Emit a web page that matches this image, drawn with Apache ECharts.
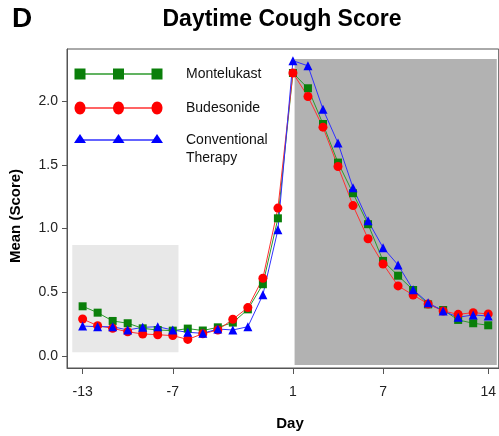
<!DOCTYPE html>
<html>
<head>
<meta charset="utf-8">
<script src="https://cdn.jsdelivr.net/npm/echarts@6/dist/echarts.min.js"></script>
<style>
  html, body { margin: 0; padding: 0; background: #fff; }
  #chart { width: 499px; height: 436px; }
</style>
</head>
<body>
<div id="chart"></div>
<script>
// 数据：第 -13 天到第 14 天
const days = [-13, -12, -11, -10, -9, -8, -7, -6, -5, -4, -3, -2, -1, 0,
              1, 2, 3, 4, 5, 6, 7, 8, 9, 10, 11, 12, 13, 14];
const montelukast = [0.39, 0.34, 0.275, 0.257, 0.217, 0.204, 0.199, 0.215, 0.20, 0.225, 0.262, 0.366, 0.563, 1.08,
                     2.22, 2.10, 1.82, 1.517, 1.277, 1.034, 0.746, 0.63, 0.518, 0.405, 0.361, 0.283, 0.257, 0.241];
const budesonide = [0.29, 0.238, 0.217, 0.19, 0.173, 0.167, 0.16, 0.13, 0.175, 0.204, 0.288, 0.38, 0.61, 1.16,
                    2.22, 2.035, 1.795, 1.486, 1.18, 0.92, 0.722, 0.55, 0.479, 0.408, 0.353, 0.327, 0.34, 0.33];
const conventional = [0.235, 0.23, 0.23, 0.204, 0.225, 0.23, 0.204, 0.186, 0.178, 0.212, 0.204, 0.23, 0.48, 0.99,
                      2.316, 2.276, 1.936, 1.67, 1.32, 1.06, 0.85, 0.714, 0.52, 0.418, 0.353, 0.304, 0.322, 0.314];
const xTicks = [-13, -7, 1, 7, 14];
const yTicks = [0, 0.5, 1, 1.5, 2];
// 阴影区间（基线期 / 治疗期）
const baselineBox = [[-13.69, 0.03], [-6.62, 0.87]];
const treatBox = [[1.11, -0.071], [14.57, 2.329]];

const font = 'Liberation Sans, Arial, sans-serif';

function pairs(vals) {
	return days.map(function (d, i) { return [d, vals[i]]; });
}

const chart = echarts.init(document.getElementById('chart'), null, { renderer: 'canvas' });

function lineSeries(name, vals, symbol, size, mColor, lColor) {
	return {
		name: name,
		type: 'line',
		data: pairs(vals),
		symbol: symbol,
		symbolSize: size,
		z: 3,
		itemStyle: { color: mColor },
		lineStyle: { color: lColor, width: 1 },
		animation: false
	};
}

// 图例（线 + 三个标记）
function legendRow(y, symbol, mColor, lColor, label) {
	const xs = [80, 118.5, 157];
	const els = [{
		type: 'line',
		shape: { x1: 80, y1: y, x2: 157, y2: y },
		style: { stroke: lColor, lineWidth: 1.5 }
	}];
	xs.forEach(function (x) {
		if (symbol === 'rect') {
			els.push({ type: 'rect', shape: { x: x - 5.5, y: y - 5.5, width: 11, height: 11 }, style: { fill: mColor } });
		} else if (symbol === 'circle') {
			els.push({ type: 'ellipse', shape: { cx: x, cy: y, rx: 5.5, ry: 6.5 }, style: { fill: mColor } });
		} else {
			els.push({ type: 'polygon', shape: { points: [[x, y - 6], [x - 6, y + 3], [x + 6, y + 3]] }, style: { fill: mColor } });
		}
	});
	els.push({
		type: 'text', left: 186, top: y - 9,
		style: { text: label, font: '14px ' + font, fill: '#111', lineHeight: 18 }
	});
	return els;
}

const graphics = [].concat(
	legendRow(74, 'rect', '#0a7f0a', '#2c9a2c', 'Montelukast'),
	legendRow(108, 'circle', '#ff0000', '#ff3030', 'Budesonide'),
	legendRow(140, 'triangle', '#0000ff', '#3030ff', 'Conventional\nTherapy'),
	[
		{ type: 'text', left: 12, top: 5, style: { text: 'D', font: 'bold 28px ' + font, fill: '#000' } },
		{ type: 'text', x: 282, y: 8, style: { text: 'Daytime Cough Score', font: 'bold 23px ' + font, fill: '#000', align: 'center' } },
		{ type: 'text', x: 290, y: 416, style: { text: 'Day', font: 'bold 15px ' + font, fill: '#000', align: 'center' } },
		{ type: 'text', x: 8, y: 216, rotation: Math.PI / 2,
		  style: { text: 'Mean (Score)', font: 'bold 15px ' + font, fill: '#000', align: 'center', verticalAlign: 'top' } }
	]
);

const option = {
	backgroundColor: '#fff',
	animation: false,
	grid: {
		left: 67, top: 49, right: -1, bottom: 68,
		show: true, borderColor: '#555', borderWidth: 1
	},
	xAxis: {
		type: 'value',
		min: -14.04, max: 14.70,
		axisLine: { onZero: false, lineStyle: { color: '#555' } },
		axisTick: { show: true, length: 6, customValues: xTicks, lineStyle: { color: '#555' } },
		axisLabel: { customValues: xTicks, margin: 17, fontSize: 14, fontFamily: font, color: '#222' },
		splitLine: { show: false }
	},
	yAxis: {
		type: 'value',
		min: -0.094, max: 2.408,
		axisLine: { show: true, onZero: false, lineStyle: { color: '#555' } },
		axisTick: { show: true, length: 5, customValues: yTicks, lineStyle: { color: '#555' } },
		axisLabel: {
			customValues: yTicks, margin: 9, fontSize: 14, fontFamily: font, color: '#222',
			formatter: function (v) { return v.toFixed(1); }
		},
		splitLine: { show: false }
	},
	series: [
		{
			type: 'line',
			data: [],
			z: 1,
			silent: true,
			markArea: {
				silent: true,
				data: [
					[{ coord: baselineBox[0], itemStyle: { color: '#e8e8e8' } }, { coord: baselineBox[1] }],
					[{ coord: treatBox[0], itemStyle: { color: '#b2b2b2' } }, { coord: treatBox[1] }]
				]
			}
		},
		lineSeries('Montelukast', montelukast, 'rect', 8, '#0a7f0a', '#2c9a2c'),
		lineSeries('Budesonide', budesonide, 'circle', 9, '#ff0000', '#ff3030'),
		lineSeries('Conventional Therapy', conventional, 'triangle', 9, '#0000ff', '#3030ff')
	],
	graphic: graphics
};

chart.setOption(option);
window.onresize = chart.resize;
</script>
</body>
</html>
